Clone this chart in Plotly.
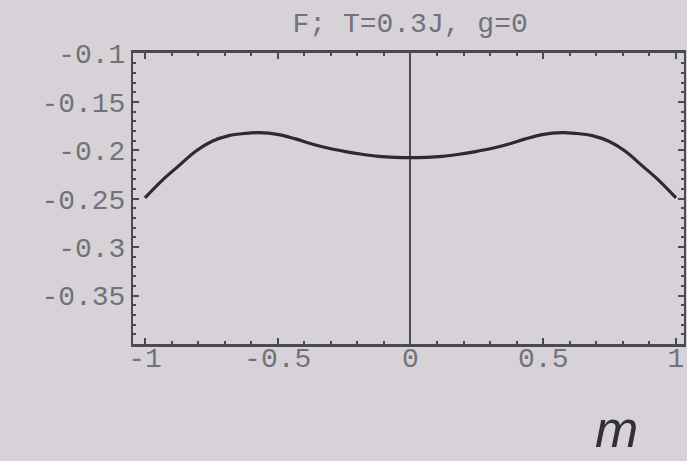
import plotly.graph_objects as go

# Data
m_vals = [-1.0, -0.936, -0.872, -0.809, -0.747, -0.684, -0.621, -0.571, -0.496, -0.433,
          -0.371, -0.308, -0.245, -0.183, -0.120, -0.058, 0.0,
          0.058, 0.120, 0.183, 0.245, 0.308, 0.371, 0.433, 0.496, 0.571,
          0.621, 0.684, 0.747, 0.809, 0.872, 0.936, 1.0]
F_vals = [-0.2491, -0.2312, -0.2158, -0.2010, -0.1907, -0.1848, -0.1825, -0.1818, -0.1838, -0.1882,
          -0.1934, -0.1979, -0.2013, -0.2041, -0.2062, -0.2072, -0.2075,
          -0.2072, -0.2062, -0.2041, -0.2013, -0.1979, -0.1934, -0.1882, -0.1838, -0.1818,
          -0.1825, -0.1848, -0.1907, -0.2010, -0.2158, -0.2312, -0.2491]

x_ticks = [-1, -0.5, 0, 0.5, 1]
x_ticktext = ["-1", "-0.5", "0", "0.5", "1"]
y_ticks = [-0.35, -0.3, -0.25, -0.2, -0.15, -0.1]
y_ticktext = ["-0.35", "-0.3", "-0.25", "-0.2", "-0.15", "-0.1"]

title_text = "F; T=0.3J, g=0"
x_label = "m"

bg = "#d6d2d7"
axis_col = "#4a4a50"
label_col = "#727279"
mono = "Liberation Mono, Courier New, monospace"

fig = go.Figure()
fig.add_trace(go.Scatter(x=m_vals, y=F_vals, mode="lines",
                         line=dict(color="#2b2b30", width=3.2, shape="spline"),
                         showlegend=False, hoverinfo="skip"))

fig.update_layout(
    width=687, height=461,
    margin=dict(l=133, r=1, t=53, b=117),
    paper_bgcolor=bg, plot_bgcolor=bg,
    title=dict(text=title_text, x=0.597, xanchor="center", y=0.952, yanchor="middle",
               font=dict(family=mono, size=28, color=label_col)),
    xaxis=dict(range=[-1.045, 1.03], tickvals=x_ticks, ticktext=x_ticktext,
               showgrid=False, zeroline=True, zerolinecolor=axis_col, zerolinewidth=2,
               showline=True, linecolor=axis_col, linewidth=3, mirror="allticks",
               ticks="inside", ticklen=6, tickwidth=1.5, tickcolor=axis_col,
               ticklabelstandoff=-14,
               minor=dict(dtick=0.1, tick0=0, ticks="inside", ticklen=3, tickcolor=axis_col),
               tickfont=dict(family=mono, size=28, color=label_col)),
    yaxis=dict(range=[-0.4, -0.0995], tickvals=y_ticks, ticktext=y_ticktext,
               showgrid=False, zeroline=False,
               showline=True, linecolor=axis_col, linewidth=2, mirror="allticks",
               ticks="inside", ticklen=6, tickwidth=1.5, tickcolor=axis_col,
               minor=dict(dtick=0.01, tick0=0, ticks="inside", ticklen=3, tickcolor=axis_col),
               tickfont=dict(family=mono, size=28, color=label_col)),
)

fig.add_annotation(text="<i>" + x_label + "</i>", xref="paper", yref="paper",
                   x=0.878, y=-0.4, xanchor="center", yanchor="bottom", showarrow=False,
                   font=dict(family="Liberation Sans, Arial, sans-serif", size=52,
                             color="#303036"))

fig.write_html("out.html")
